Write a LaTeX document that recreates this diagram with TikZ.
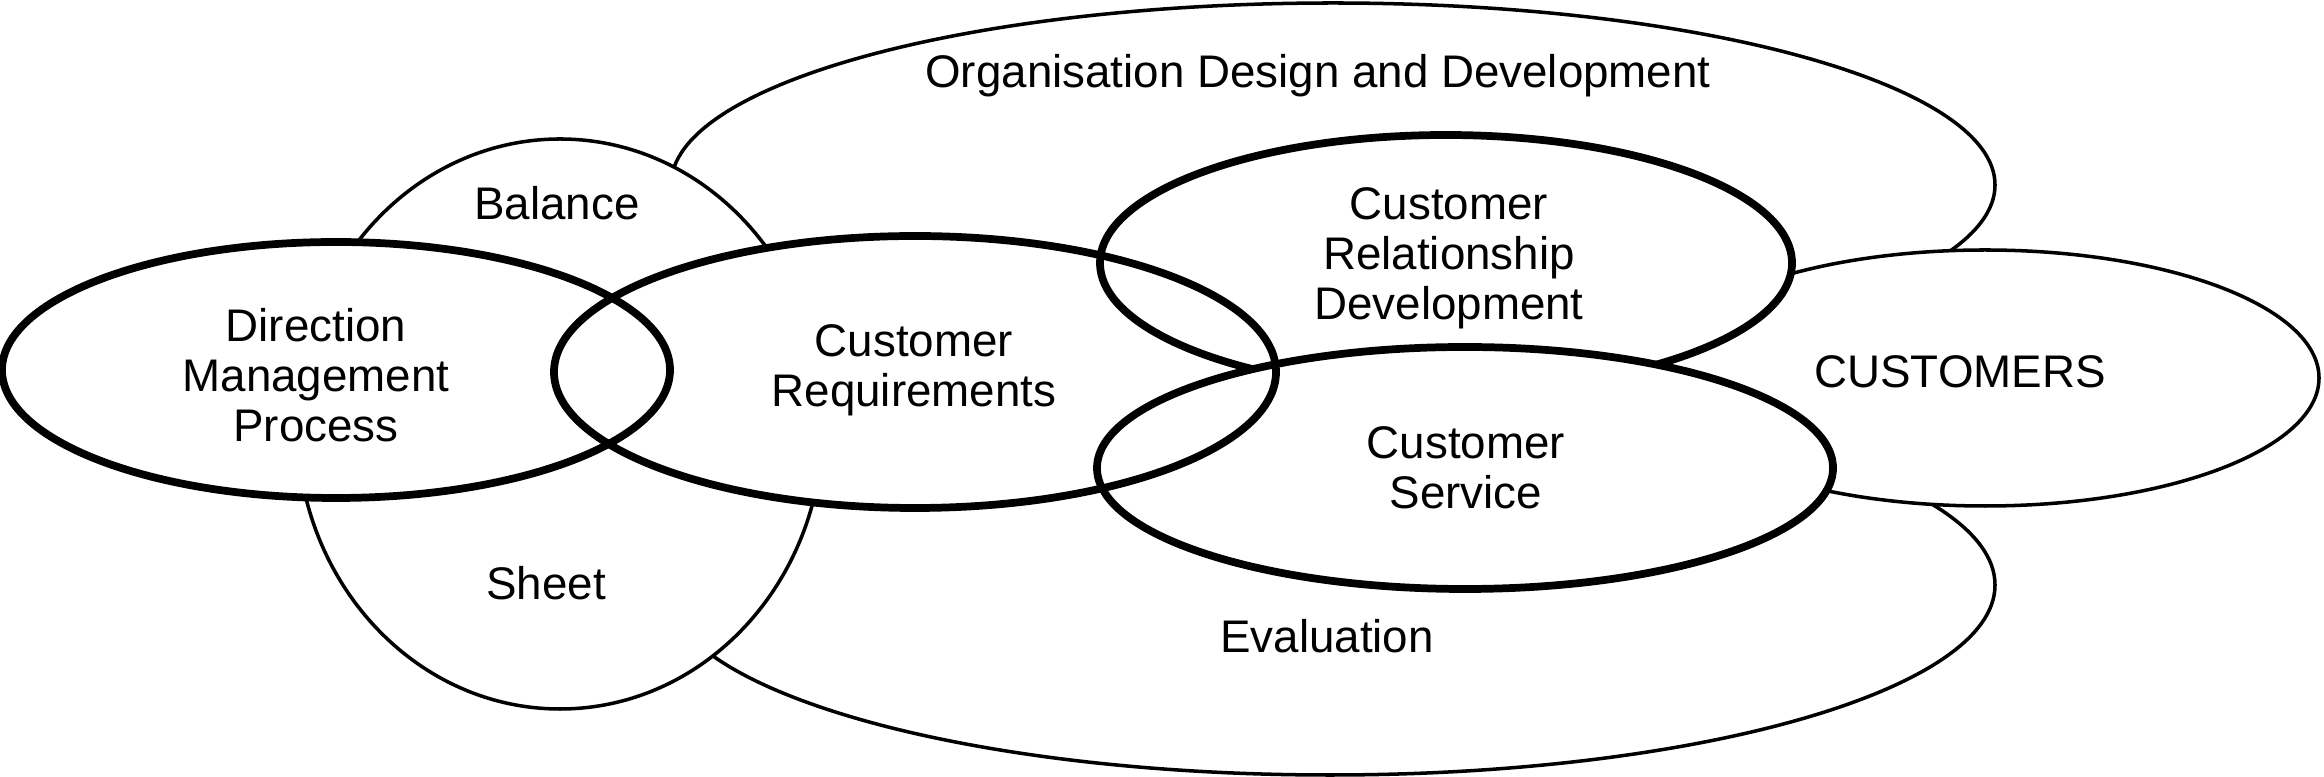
\documentclass[tikz,border=0pt]{standalone}
\usepackage{fontspec}
\setmainfont{Liberation Sans}

\begin{document}
\begin{tikzpicture}[
    x=0.01cm, y=-0.01cm,
    ring/.style={draw, line width=1pt, fill=white},
    keyring/.style={draw, line width=2.2pt},
    lbl/.style={font=\fontsize{13}{14.2}\selectfont, align=center, inner sep=0pt}
]
    \useasboundingbox (0,0) rectangle (2324,777);

    % thin rings, back to front
    \draw[ring] (1333,185) ellipse [x radius=662, y radius=182];
    \draw[ring] (1330,585) ellipse [x radius=665, y radius=190];
    \draw[ring] (1985,378) ellipse [x radius=334, y radius=128];
    \draw[ring] (560,424) ellipse [x radius=263, y radius=285];

    % thick rings: blank them out first
    \foreach \cx/\cy/\rx/\ry in {336/370/334/128, 915/372/361/136, 1446/263/346/128, 1465/468/368/121}
        \fill[white] (\cx,\cy) ellipse [x radius=\rx, y radius=\ry];
    % service sits over relationship, the other two lie on top
    \draw[keyring] (1446,263) ellipse [x radius=346, y radius=128];
    \draw[keyring, fill=white] (1465,468) ellipse [x radius=368, y radius=121];
    \draw[keyring] (336,370) ellipse [x radius=334, y radius=128];
    \draw[keyring] (915,372) ellipse [x radius=361, y radius=136];

    \node[lbl, anchor=base] (odd) at (1318,88) {Organisation Design and Development};
    \node[lbl, anchor=base] (balance) at (557,220) {Balance};
    \node[lbl, anchor=base] (sheet) at (546,600) {Sheet};
    \node[lbl, anchor=base] (customers) at (1960,388) {CUSTOMERS};
    \node[lbl, anchor=base] (evaluation) at (1327,653) {Evaluation};
    \node[lbl] (dmp) at (316,375) {Direction\\Management\\Process};
    \node[lbl] (creq) at (914,370) {Customer\\Requirements};
    \node[lbl] (crd) at (1449,258) {Customer\\Relationship\\Development};
    \node[lbl] (cserv) at (1466,468) {Customer\\Service};
\end{tikzpicture}
\end{document}
